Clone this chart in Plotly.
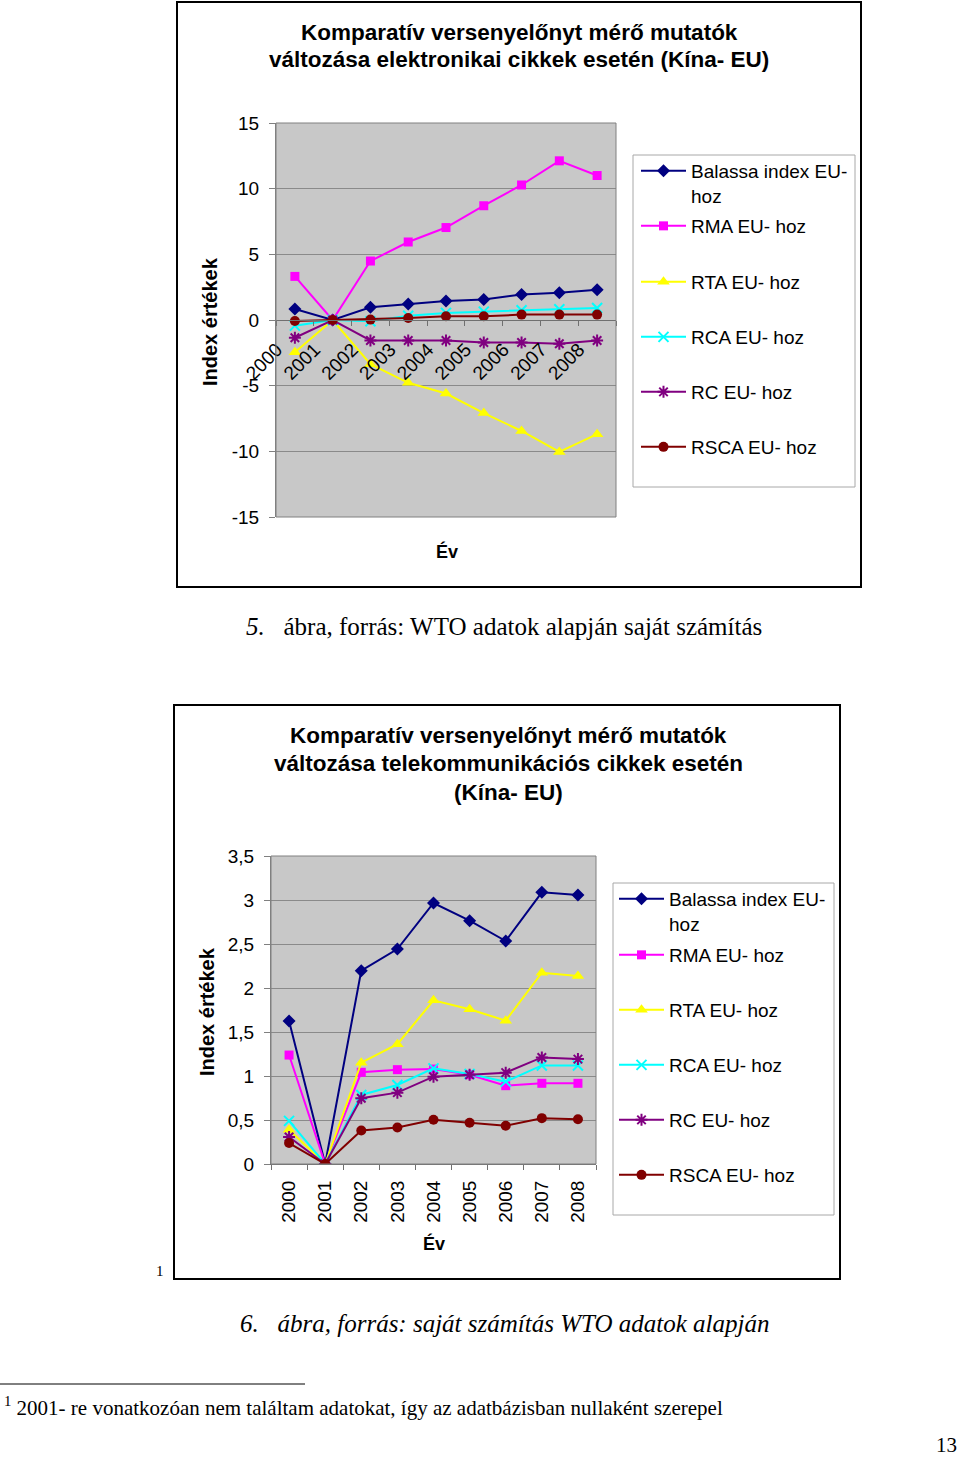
import plotly.graph_objects as go

W, H = 960, 1460

years = ["2000", "2001", "2002", "2003", "2004", "2005", "2006", "2007", "2008"]
series_names = ["Balassa index EU-<br>hoz", "RMA EU- hoz", "RTA EU- hoz",
                "RCA EU- hoz", "RC EU- hoz", "RSCA EU- hoz"]

# Chart 1: electronics
balassa1 = [0.84, 0, 0.97, 1.22, 1.45, 1.56, 1.94, 2.07, 2.30]
rma1 = [3.32, 0, 4.49, 5.94, 7.04, 8.70, 10.28, 12.12, 11.0]
rta1 = [-2.45, 0, -3.37, -4.78, -5.6, -7.09, -8.45, -10.05, -8.69]
rca1 = [-0.43, 0, -0.1, 0.33, 0.54, 0.64, 0.74, 0.82, 0.92]
rc1 = [-1.35, 0, -1.56, -1.56, -1.56, -1.71, -1.71, -1.81, -1.56]
rsca1 = [-0.08, 0, 0.03, 0.15, 0.28, 0.28, 0.41, 0.41, 0.41]

# Chart 2: telecommunication
balassa2 = [1.625, 0, 2.197, 2.443, 2.966, 2.765, 2.534, 3.087, 3.057]
rma2 = [1.238, 0, 1.042, 1.072, 1.079, 1.015, 0.89, 0.917, 0.917]
rta2 = [0.389, 0, 1.151, 1.362, 1.86, 1.758, 1.629, 2.174, 2.136]
rca2 = [0.49, 0, 0.785, 0.898, 1.087, 1.023, 0.936, 1.12, 1.12]
rc2 = [0.306, 0, 0.747, 0.811, 0.992, 1.015, 1.038, 1.211, 1.192]
rsca2 = [0.238, 0, 0.381, 0.415, 0.502, 0.468, 0.434, 0.521, 0.509]

y1_ticks = [-15, -10, -5, 0, 5, 10, 15]
y1_labels = ["-15", "-10", "-5", "0", "5", "10", "15"]
y2_ticks = [0, 0.5, 1, 1.5, 2, 2.5, 3, 3.5]
y2_labels = ["0", "0,5", "1", "1,5", "2", "2,5", "3", "3,5"]

SANS = "Liberation Sans"
SERIF = "Liberation Serif"


def px(x):
    return x / W


def py(y):
    return 1 - y / H


styles = [
    dict(color="#000080", symbol="diamond", size=10, lw=2),
    dict(color="#FF00FF", symbol="square", size=9, lw=2),
    dict(color="#FFFF00", symbol="triangle-up", size=11, lw=2),
    dict(color="#00FFFF", symbol="x-thin", size=10, lw=2),
    dict(color="#800080", symbol="asterisk", size=10, lw=2),
    dict(color="#800000", symbol="circle", size=10, lw=2),
]

fig = go.Figure()

chart1 = [balassa1, rma1, rta1, rca1, rc1, rsca1]
chart2 = [balassa2, rma2, rta2, rca2, rc2, rsca2]

leg_y1 = [183.5, 226, 282, 337, 392, 447]
leg_y2 = [911.5, 955, 1010, 1065, 1120, 1175]

layout_legends = {}


def make_legend(xpx, ypx):
    return dict(x=px(xpx), y=py(ypx), xanchor="left", yanchor="middle",
                bgcolor="rgba(0,0,0,0)", borderwidth=0, valign="top",
                itemwidth=45, tracegroupgap=0,
                font=dict(family=SANS, size=19, color="black"))


for ci, (data, xa, ya, leg_ys, lx) in enumerate([
        (chart1, "x", "y", leg_y1, 636),
        (chart2, "x2", "y2", leg_y2, 614)]):
    for si, vals in enumerate(data):
        st = styles[si]
        idx = ci * 6 + si + 1
        lname = "legend" if idx == 1 else f"legend{idx}"
        mline = dict(width=0)
        if st["symbol"] in ("x-thin", "asterisk"):
            mline = dict(width=2, color=st["color"])
        fig.add_trace(go.Scatter(
            x=years, y=vals, mode="lines+markers", name=series_names[si],
            xaxis=xa, yaxis=ya, legend=lname,
            line=dict(color=st["color"], width=st["lw"]),
            marker=dict(symbol=st["symbol"], size=st["size"], color=st["color"],
                        line=mline),
        ))
        layout_legends[lname] = make_legend(lx, leg_ys[si])

# plot area domains (pixels)
x1d = [px(276), px(616)]
y1d = [py(517), py(123)]
x2d = [px(271), px(596)]
y2d = [py(1164), py(856)]

zero_pos = y1d[0] + (0 - (-15)) / 30 * (y1d[1] - y1d[0])

tickfont = dict(family=SANS, size=19, color="black")
GRID = "#8A8A8A"

fig.update_layout(
    width=W, height=H,
    margin=dict(l=0, r=0, t=0, b=0, autoexpand=False),
    paper_bgcolor="white",
    plot_bgcolor="#C8C8C8",
    showlegend=True,
    xaxis=dict(domain=x1d, type="category", anchor="free", position=zero_pos,
               range=[-0.5, 8.5], showline=True, linecolor="#707070", linewidth=1,
               ticks="outside", tickson="boundaries", ticklen=5, tickcolor="#707070",
               tickangle=-45, tickfont=tickfont, showgrid=False, zeroline=False,
               ticklabelstandoff=10, ticklabelshift=-18, automargin=False),
    yaxis=dict(domain=y1d, anchor="x", range=[-15, 15], tickvals=y1_ticks,
               ticktext=y1_labels,
               showgrid=True, gridcolor=GRID, gridwidth=1, zeroline=False,
               showline=True, linecolor="#808080", ticks="outside", ticklen=6,
               tickcolor="#808080", tickfont=tickfont, ticklabelstandoff=6,
               automargin=False),
    xaxis2=dict(domain=x2d, type="category", anchor="y2", range=[-0.5, 8.5],
                showline=True, linecolor="#707070", ticks="outside",
                tickson="boundaries", ticklen=5, tickcolor="#707070",
                tickangle=-90, tickfont=tickfont, showgrid=False, zeroline=False,
                ticklabelstandoff=8, automargin=False),
    yaxis2=dict(domain=y2d, anchor="x2", range=[0, 3.5], tickvals=y2_ticks,
                ticktext=y2_labels,
                showgrid=True, gridcolor=GRID, gridwidth=1, zeroline=False,
                showline=True, linecolor="#808080", ticks="outside", ticklen=6,
                tickcolor="#808080", tickfont=tickfont, ticklabelstandoff=6,
                automargin=False),
    **layout_legends,
)

shapes = []
# outer chart frames
shapes.append(dict(type="rect", xref="paper", yref="paper", x0=px(177), x1=px(861),
                   y0=py(587), y1=py(2), line=dict(color="black", width=2)))
shapes.append(dict(type="rect", xref="paper", yref="paper", x0=px(174), x1=px(840),
                   y0=py(1279), y1=py(705), line=dict(color="black", width=2)))
# plot area borders
for xr, yr in (("x", "y"), ("x2", "y2")):
    shapes.append(dict(type="rect", xref=f"{xr} domain", yref=f"{yr} domain",
                       x0=0, x1=1, y0=0, y1=1, line=dict(color="#808080", width=1),
                       layer="above"))
# legend boxes
shapes.append(dict(type="rect", xref="paper", yref="paper", x0=px(633), x1=px(855),
                   y0=py(487), y1=py(155), line=dict(color="#A8A8A8", width=1)))
shapes.append(dict(type="rect", xref="paper", yref="paper", x0=px(613), x1=px(834),
                   y0=py(1215), y1=py(883), line=dict(color="#A8A8A8", width=1)))
# footnote separator
shapes.append(dict(type="line", xref="paper", yref="paper", x0=0, x1=px(305),
                   y0=py(1384), y1=py(1384), line=dict(color="black", width=1)))

ann = []


def text(t, x, y, size, family=SANS, bold=False, italic=False, angle=0,
         xanchor="center", yanchor="middle"):
    font = dict(family=family, size=size, color="black")
    if bold:
        font["weight"] = "bold"
    if italic:
        font["style"] = "italic"
    ann.append(dict(text=t, x=px(x), y=py(y), xref="paper", yref="paper",
                    showarrow=False, font=font, textangle=angle,
                    xanchor=xanchor, yanchor=yanchor))


# chart titles
text("Komparatív versenyelőnyt mérő mutatók", 519, 32, 22.5, bold=True)
text("változása elektronikai cikkek esetén (Kína- EU)", 519, 60, 22.5, bold=True)
text("Komparatív versenyelőnyt mérő mutatók", 508, 735, 22.5, bold=True)
text("változása telekommunikációs cikkek esetén", 508, 764, 22.5, bold=True)
text("(Kína- EU)", 508, 792, 22.5, bold=True)

# axis titles
text("Index értékek", 210, 322, 20, bold=True, angle=-90)
text("Index értékek", 207, 1012, 20, bold=True, angle=-90)
text("Év", 447, 551, 18, bold=True)
text("Év", 434, 1243, 18, bold=True)

# captions
text("<i>5.</i>\u00a0\u00a0 ábra, forrás: WTO adatok alapján saját számítás",
     504, 626, 25, family=SERIF)
text("6.\u00a0\u00a0 ábra, forrás: saját számítás WTO adatok alapján",
     504.5, 1323, 25, family=SERIF, italic=True)

# footnote marker in chart 2 frame
text("1", 160, 1271, 15, family=SERIF)

# footnote
text("<sup>1</sup> 2001- re vonatkozóan nem találtam adatokat, így az adatbázisban nullaként szerepel",
     2, 1406, 21, family=SERIF, xanchor="left")
text("13", 946, 1445, 21, family=SERIF, xanchor="center")

fig.update_layout(shapes=shapes, annotations=ann)

fig.write_html(
    "out.html",
    config={"displayModeBar": False},
    post_script="document.body.style.margin='0px';"
                "document.body.style.padding='0px';"
                "document.body.style.overflow='hidden';",
)
